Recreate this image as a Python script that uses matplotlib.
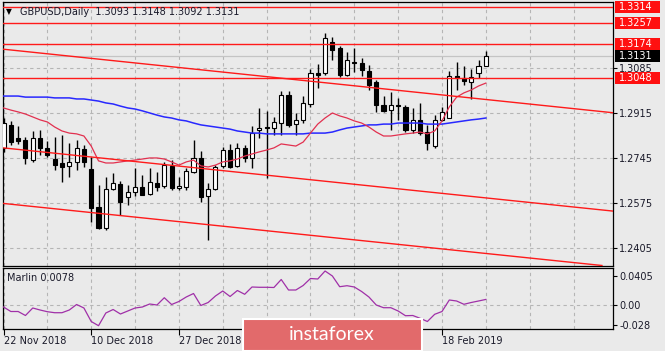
import numpy as np
import matplotlib
matplotlib.use('Agg')
import matplotlib.pyplot as plt
from matplotlib.patches import Rectangle
import matplotlib.transforms as mtrans

# ---------------- data ----------------
opens = [1.2783,1.2870,1.2821,1.2813,1.2737,1.2821,1.2783,1.2741,1.2726,1.2715,
         1.2730,1.2779,1.2703,1.2560,1.2480,1.2628,1.2647,1.2597,1.2616,1.2635,
         1.2609,1.2650,1.2639,1.2715,1.2631,1.2635,1.2692,1.2745,1.2601,1.2628,
         1.2715,1.2775,1.2715,1.2783,1.2745,1.2851,1.2862,1.2858,1.2877,1.2983,
         1.2873,1.2889,1.2949,1.3066,1.3066,1.3183,1.3161,1.3059,1.3108,1.3104,
         1.3074,1.3032,1.2945,1.2926,1.2945,1.2938,1.2851,1.2889,1.2843,1.2790,
         1.2889,1.2896,1.3055,1.3047,1.3032,1.3066,1.3093]
highs = [1.2896,1.2885,1.2866,1.2824,1.2847,1.2851,1.2809,1.2824,1.2832,1.2802,
         1.2813,1.2794,1.2749,1.2643,1.2673,1.2688,1.2658,1.2643,1.2707,1.2681,
         1.2707,1.2692,1.2730,1.2737,1.2673,1.2707,1.2813,1.2771,1.2650,1.2718,
         1.2786,1.2798,1.2802,1.2794,1.2866,1.2934,1.2923,1.2900,1.2998,1.2998,
         1.2915,1.2979,1.3081,1.3100,1.3217,1.3202,1.3168,1.3146,1.3161,1.3123,
         1.3096,1.3040,1.2979,1.2994,1.2972,1.2945,1.2934,1.2953,1.2870,1.2907,
         1.2938,1.3074,1.3108,1.3093,1.3081,1.3115,1.3148]
lows = [1.2768,1.2794,1.2798,1.2722,1.2730,1.2756,1.2749,1.2700,1.2654,1.2673,
        1.2700,1.2711,1.2503,1.2477,1.2473,1.2624,1.2529,1.2567,1.2601,1.2605,
        1.2605,1.2620,1.2631,1.2624,1.2624,1.2624,1.2688,1.2579,1.2435,1.2624,
        1.2707,1.2707,1.2711,1.2730,1.2707,1.2821,1.2669,1.2832,1.2832,1.2862,
        1.2832,1.2877,1.2938,1.3010,1.3059,1.3115,1.3051,1.3055,1.3070,1.3055,
        1.3002,1.2919,1.2919,1.2851,1.2889,1.2843,1.2839,1.2832,1.2775,1.2783,
        1.2885,1.2896,1.3002,1.3021,1.2968,1.3047,1.3092]
closes = [1.2877,1.2805,1.2809,1.2745,1.2821,1.2783,1.2756,1.2718,1.2711,1.2730,
          1.2783,1.2730,1.2556,1.2480,1.2628,1.2650,1.2579,1.2616,1.2635,1.2605,
          1.2654,1.2635,1.2718,1.2631,1.2639,1.2696,1.2745,1.2597,1.2628,1.2711,
          1.2775,1.2711,1.2783,1.2745,1.2839,1.2858,1.2858,1.2881,1.2983,1.2870,
          1.2889,1.2953,1.3066,1.3059,1.3199,1.3153,1.3059,1.3115,1.3104,1.3078,
          1.3021,1.2945,1.2923,1.2945,1.2941,1.2851,1.2889,1.2839,1.2802,1.2889,
          1.2919,1.3055,1.3047,1.3036,1.3051,1.3093,1.3131]

ma_fast = [1.2934,1.2926,1.2919,1.2911,1.2900,1.2889,1.2881,1.2862,1.2847,1.2839,
           1.2836,1.2828,1.2790,1.2734,1.2726,1.2726,1.2730,1.2734,1.2737,1.2741,
           1.2745,1.2745,1.2741,1.2730,1.2718,1.2730,1.2737,1.2715,1.2711,1.2718,
           1.2730,1.2734,1.2741,1.2752,1.2760,1.2768,1.2775,1.2783,1.2798,1.2794,
           1.2790,1.2805,1.2839,1.2873,1.2896,1.2915,1.2904,1.2896,1.2885,1.2877,
           1.2862,1.2843,1.2828,1.2828,1.2832,1.2836,1.2839,1.2843,1.2836,1.2847,
           1.2885,1.2938,1.2975,1.2991,1.3002,1.3017,1.3028]
ma_slow = [1.2979,1.2979,1.2979,1.2975,1.2975,1.2975,1.2975,1.2972,1.2972,1.2972,
           1.2968,1.2968,1.2964,1.2960,1.2953,1.2949,1.2941,1.2934,1.2930,1.2923,
           1.2915,1.2907,1.2900,1.2896,1.2889,1.2885,1.2877,1.2870,1.2866,1.2862,
           1.2858,1.2854,1.2847,1.2843,1.2839,1.2839,1.2836,1.2836,1.2836,1.2836,
           1.2836,1.2836,1.2839,1.2839,1.2839,1.2843,1.2851,1.2858,1.2862,1.2866,
           1.2870,1.2870,1.2873,1.2873,1.2877,1.2877,1.2877,1.2877,1.2873,1.2873,
           1.2873,1.2877,1.2881,1.2885,1.2889,1.2892,1.2896]
marlin = [-0.0028,-0.0091,-0.0091,-0.0147,-0.0042,-0.0070,-0.0094,-0.0108,-0.0108,-0.0070,
          0.0007,-0.0042,-0.0231,-0.0290,-0.0112,-0.0063,-0.0126,-0.0084,-0.0042,-0.0028,
          0.0014,0.0000,0.0102,0.0007,0.0049,0.0112,0.0161,-0.0007,0.0035,0.0126,
          0.0196,0.0119,0.0203,0.0150,0.0252,0.0248,0.0248,0.0245,0.0357,0.0210,
          0.0210,0.0273,0.0371,0.0364,0.0476,0.0406,0.0256,0.0270,0.0252,0.0189,
          0.0112,0.0000,-0.0038,-0.0038,-0.0084,-0.0150,-0.0147,-0.0186,-0.0231,-0.0130,
          -0.0091,0.0070,0.0056,0.0010,0.0035,0.0056,0.0078]

levels = [1.3314, 1.3257, 1.3174, 1.3048]
level_labels = ["1.3314", "1.3257", "1.3174", "1.3048"]
bid = 1.3131
bid_label = "1.3131"
# channel lines: (bar, price) anchor pairs
channels = [((0, 1.3156), (66, 1.2966)),
            ((0, 1.2783), (66, 1.2594)),
            ((0, 1.2573), (66, 1.2384))]
price_ticks = [1.3085, 1.2915, 1.2745, 1.2575, 1.2405]
price_tick_labels = ["1.3085", "1.2915", "1.2745", "1.2575", "1.2405"]
marlin_ticks = [0.0405, 0.0, -0.028]
marlin_tick_labels = ["0.0405", "0.00", "-0.028"]
date_ticks = [0, 12, 24, 60]
date_labels = ["22 Nov 2018", "10 Dec 2018", "27 Dec 2018", "18 Feb 2019"]
header = "GBPUSD,Daily  1.3093 1.3148 1.3092 1.3131"
marlin_title = "Marlin 0.0078"

# ---------------- layout ----------------
W, H = 665, 351
bg = '#eaeaea'
txtc = '#1a1a2a'
fig = plt.figure(figsize=(W/100, H/100), dpi=100)
fig.patch.set_facecolor(bg)

def fx(px): return px / W
def fy(py): return 1 - py / H

L, R = 2.5, 613
ax = fig.add_axes([fx(L), fy(265.5), fx(R) - fx(L), fy(2) - fy(265.5)])
axm = fig.add_axes([fx(L), fy(328.5), fx(R) - fx(L), fy(268) - fy(328.5)])
for a in (ax, axm):
    a.set_facecolor(bg)
    for s in a.spines.values():
        s.set_color('black')
        s.set_linewidth(0.9)
    a.set_xlim(-0.14, 83.4)

ax.set_ylim(1.23385, 1.33345)
axm.set_ylim(-0.0329, 0.0518)

gridkw = dict(color='#b5b5b5', lw=0.8, linestyle=(0, (3, 3)), zorder=1)
for k in range(0, 84, 6):
    ax.axvline(k, **gridkw)
    axm.axvline(k, **gridkw)
for p in price_ticks:
    ax.axhline(p, **gridkw)
axm.axhline(0.0, **gridkw)

# candles
x = np.arange(len(opens))
o = np.array(opens); h = np.array(highs); l = np.array(lows); c = np.array(closes)
up = c >= o
ax.vlines(x, l, h, color='black', lw=1.0, zorder=3)
ax.bar(x[up], (c - o)[up], bottom=o[up], width=0.56, color='white',
       edgecolor='black', lw=0.8, zorder=4)
ax.bar(x[~up], (o - c)[~up], bottom=c[~up], width=0.56, color='black',
       edgecolor='black', lw=0.8, zorder=4)

# moving averages
ax.plot(x, ma_slow, color='#2828ff', lw=1.1, zorder=5)
ax.plot(x, ma_fast, color='#e2304f', lw=0.9, zorder=5)

# objects
for p in levels:
    ax.axhline(p, color='#ff1a1a', lw=1.0, zorder=6)
for p1, p2 in channels:
    ax.axline(p1, p2, color='#ff1a1a', lw=1.0, zorder=6)
ax.axhline(bid, color='#c4c4c4', lw=0.9, zorder=2)

# right axis
ax.yaxis.tick_right()
ax.set_yticks(price_ticks)
ax.set_yticklabels(price_tick_labels)
ax.tick_params(axis='y', length=3, width=0.8, pad=1.5, labelsize=7, labelcolor=txtc)
ax.tick_params(axis='x', length=0, labelbottom=False)
ax.set_xticks([])

axm.yaxis.tick_right()
axm.set_yticks(marlin_ticks)
axm.set_yticklabels(marlin_tick_labels)
axm.tick_params(axis='y', length=3, width=0.8, pad=1.5, labelsize=7, labelcolor=txtc)
axm.set_xticks(date_ticks)
axm.set_xticklabels(date_labels)
axm.tick_params(axis='x', length=4, width=0.8, pad=1.2, labelsize=7, labelcolor=txtc)
for lbl in axm.get_xticklabels():
    lbl.set_ha('left')

# price label boxes
tr = mtrans.blended_transform_factory(ax.transAxes, ax.transData)
bx0 = (615 - L) / (R - L)
bw = 45 / (R - L)
bh = 12 * (1.33345 - 1.23385) / 263.5
tx0 = (618.5 - L) / (R - L)
for p, s in zip(levels, level_labels):
    ax.add_patch(Rectangle((bx0, p - bh / 2), bw, bh, transform=tr, fc='#ff1010',
                           ec='none', clip_on=False, zorder=10))
    ax.text(tx0, p, s, transform=tr, color='white', fontsize=7, va='center',
            ha='left', zorder=11, clip_on=False)
ax.add_patch(Rectangle((bx0, bid - bh / 2), bw, bh, transform=tr, fc='black',
                       ec='none', clip_on=False, zorder=10))
ax.text(tx0, bid, bid_label, transform=tr, color='white', fontsize=7, va='center',
        ha='left', zorder=11, clip_on=False)

# marlin
axm.plot(x, marlin, color='#a030a8', lw=0.9, zorder=5)
axm.text(fx(7 - L) / (fx(R) - fx(L)), 0.83, marlin_title, transform=axm.transAxes,
         fontsize=7, color=txtc, va='center', ha='left')

# header
fig.text(fx(6), fy(12), '\u25BC', fontsize=5.5, color='black', va='center', ha='left')
fig.text(fx(20), fy(12), header, fontsize=7, color=txtc, va='center', ha='left')

# watermark logo
fig.add_artist(Rectangle((fx(243), 0), fx(422) - fx(243), fy(319), transform=fig.transFigure,
                         fc='#e26a6b', ec='white', lw=1.5, zorder=20))
fig.text(fx(332), fy(335), 'instaforex', fontsize=14, family='Lato', color='white',
         ha='center', va='center', zorder=21)

fig.savefig('out.png', dpi=100, facecolor=bg)
